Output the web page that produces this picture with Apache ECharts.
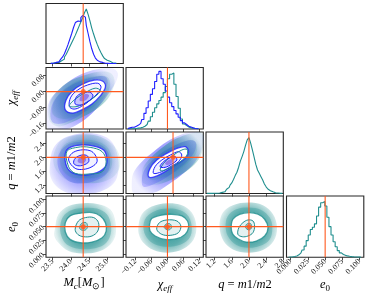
<!DOCTYPE html>
<html><head><meta charset="utf-8">
<script src="https://cdn.jsdelivr.net/npm/echarts@6/dist/echarts.min.js"></script>
<style>html,body{margin:0;padding:0;background:#fff}#c{width:374px;height:298px}</style>
</head><body><div id="c"></div>
<script>
// ---------- 1D histograms ----------
const mcCenters = [23.45,23.50,23.55,23.60,23.65,23.70,23.75,23.80,23.85,23.90,23.95,24.00,24.05,24.10,24.15,24.20,24.25,24.30,24.35,24.40,24.45,24.50,24.55,24.60,24.65,24.70,24.75,24.80,24.85,24.90,24.95,25.00,25.05,25.10,25.15,25.20,25.25];
const mcTeal = [0.005,0.008,0.01,0.015,0.02,0.03,0.05,0.08,0.12,0.17,0.24,0.31,0.38,0.45,0.52,0.6,0.68,0.76,0.84,0.93,1.0,0.9,0.78,0.65,0.54,0.44,0.35,0.27,0.2,0.14,0.09,0.06,0.04,0.025,0.015,0.01,0.005];
const mcBlue = [0.003,0.005,0.01,0.02,0.03,0.05,0.08,0.12,0.18,0.26,0.35,0.45,0.55,0.66,0.75,0.78,0.77,0.84,0.88,0.85,0.7,0.55,0.4,0.27,0.17,0.1,0.06,0.03,0.02,0.01,0.005,0.003,0.002,0.001,0,0,0];
const chiCenters = [-0.148,-0.140,-0.132,-0.124,-0.116,-0.108,-0.100,-0.092,-0.084,-0.076,-0.068,-0.060,-0.052,-0.044,-0.036,-0.028,-0.020,-0.012,-0.004,0.004,0.012,0.020,0.028,0.036,0.044,0.052,0.060,0.068,0.076,0.084,0.092,0.100,0.108,0.116];
const chiBlue = [0.01,0.02,0.03,0.03,0.05,0.07,0.1,0.17,0.28,0.38,0.5,0.62,0.72,0.85,0.98,1.03,0.9,0.8,0.68,0.57,0.47,0.4,0.33,0.27,0.21,0.15,0.11,0.08,0.05,0.035,0.02,0.01,0.005,0.003];
const chiTeal = [0.002,0.003,0.004,0.005,0.01,0.015,0.02,0.03,0.05,0.08,0.14,0.22,0.3,0.38,0.45,0.51,0.57,0.65,0.76,0.9,0.98,1.0,0.8,0.58,0.37,0.18,0.09,0.06,0.035,0.02,0.015,0.01,0.008,0.005];
const qCenters = [1.02,1.06,1.10,1.14,1.18,1.22,1.26,1.30,1.34,1.38,1.42,1.46,1.50,1.54,1.58,1.62,1.66,1.70,1.74,1.78,1.82,1.86,1.90,1.94,1.98,2.02,2.06,2.10,2.14,2.18,2.22,2.26,2.30,2.34,2.38,2.42,2.46,2.50,2.54,2.58,2.62,2.66,2.70,2.74,2.78];
const qTeal = [0.002,0.002,0.003,0.003,0.004,0.004,0.005,0.008,0.012,0.02,0.03,0.05,0.075,0.11,0.15,0.19,0.25,0.32,0.38,0.47,0.58,0.66,0.75,0.86,0.96,1.0,0.9,0.78,0.65,0.52,0.42,0.36,0.3,0.24,0.17,0.12,0.08,0.05,0.03,0.02,0.012,0.008,0.005,0.003,0.002];
const e0Centers = [-0.003,0.000,0.003,0.006,0.009,0.012,0.015,0.018,0.021,0.024,0.027,0.030,0.033,0.036,0.039,0.042,0.045,0.048,0.051,0.054,0.057,0.060,0.063,0.066,0.069,0.072,0.075,0.078,0.081,0.084,0.087,0.090,0.093,0.096,0.099,0.102];
const e0Teal = [0.002,0.005,0.008,0.015,0.025,0.045,0.08,0.13,0.2,0.3,0.4,0.5,0.54,0.6,0.74,0.9,0.98,1.0,0.92,0.72,0.55,0.4,0.28,0.19,0.12,0.08,0.05,0.035,0.025,0.018,0.012,0.008,0.006,0.004,0.003,0.002];

// ---------- truths ----------
const truthMc = 24.34, truthChi = 0.0, truthQ = 2.0, truthE0 = 0.05;

// ---------- tick values ----------
const ticksMc = [23.5,24.0,24.5,25.0];
const ticksChiX = [-0.12,-0.06,0.0,0.06,0.12];
const ticksChiY = [-0.16,-0.08,0.0,0.08];
const ticksQX = [1.2,1.6,2.0,2.4,2.8];
const ticksQY = [1.2,1.6,2.0,2.4];
const ticksE0 = [0.0,0.025,0.05,0.075,0.1];

// ---------- 2D density outlines (data units) ----------
// A: Mc vs chi_eff
const A_tealOuter = [[23.43,-0.15],[23.39,-0.092],[23.48,-0.033],[23.71,0.017],[24.03,0.058],[24.40,0.083],[24.76,0.1],[25.08,0.095],[25.20,0.058],[25.13,0.0],[24.95,-0.05],[24.67,-0.092],[24.35,-0.125],[23.98,-0.158],[23.66,-0.175]];
const A_blueOuter = [[23.39,-0.192],[23.34,-0.125],[23.41,-0.05],[23.62,0.0],[23.94,0.05],[24.30,0.088],[24.72,0.112],[25.13,0.117],[25.29,0.092],[25.22,0.042],[25.01,-0.017],[24.76,-0.075],[24.44,-0.133],[24.08,-0.175],[23.71,-0.195]];
const A_tealDense = [[23.52,-0.117],[23.51,-0.067],[23.66,-0.017],[23.94,0.028],[24.30,0.062],[24.72,0.078],[25.01,0.072],[25.08,0.033],[24.97,-0.017],[24.76,-0.055],[24.49,-0.092],[24.15,-0.122],[23.80,-0.138]];
const A_blueDense = [[23.48,-0.15],[23.45,-0.092],[23.57,-0.038],[23.85,0.012],[24.21,0.05],[24.63,0.072],[24.95,0.075],[25.01,0.042],[24.86,-0.008],[24.63,-0.058],[24.35,-0.105],[24.03,-0.142],[23.71,-0.162]];
const A_white = [[23.85,-0.092],[23.87,-0.042],[24.06,0.005],[24.33,0.038],[24.64,0.058],[24.88,0.052],[24.95,0.022],[24.81,-0.022],[24.58,-0.062],[24.30,-0.092],[24.06,-0.108]];
const A_blueL2 = [[23.96,-0.075],[24.00,-0.028],[24.19,0.008],[24.46,0.033],[24.74,0.042],[24.83,0.022],[24.72,-0.012],[24.52,-0.045],[24.29,-0.075],[24.09,-0.088]];
const A_tealL2 = [[23.96,-0.072],[24.12,-0.038],[24.40,-0.005],[24.67,0.017],[24.81,0.005],[24.67,-0.025],[24.42,-0.055],[24.17,-0.075]];
const A_blueInner = [[24.12,-0.062],[24.15,-0.028],[24.30,-0.008],[24.52,-0.003],[24.61,-0.022],[24.49,-0.048],[24.30,-0.067]];
const A_core = [[24.24,-0.045],[24.28,-0.022],[24.40,-0.012],[24.50,-0.018],[24.44,-0.038],[24.33,-0.048]];
// B: Mc vs q
const B_tealOuter = [[23.57,2.211],[23.75,2.499],[24.17,2.643],[24.63,2.643],[24.99,2.499],[25.27,2.211],[25.36,1.827],[25.22,1.492],[24.90,1.30],[24.44,1.252],[23.98,1.30],[23.66,1.54],[23.52,1.875]];
const B_blueOuter = [[23.43,1.827],[23.52,2.259],[23.80,2.547],[24.26,2.69],[24.72,2.671],[25.08,2.499],[25.27,2.115],[25.31,1.636],[25.18,1.252],[24.81,1.012],[24.35,0.945],[23.89,0.983],[23.57,1.204],[23.43,1.492]];
const B_tealDense = [[23.71,2.163],[23.89,2.403],[24.26,2.499],[24.67,2.48],[24.99,2.307],[25.13,1.971],[25.08,1.636],[24.81,1.444],[24.40,1.396],[23.98,1.444],[23.75,1.684]];
const B_blueDense = [[23.63,1.875],[23.71,2.163],[23.94,2.384],[24.30,2.451],[24.72,2.403],[24.99,2.211],[25.08,1.875],[24.99,1.54],[24.72,1.348],[24.35,1.252],[23.98,1.30],[23.73,1.54]];
const B_white = [[23.85,2.115],[23.98,2.288],[24.26,2.355],[24.63,2.326],[24.90,2.211],[24.99,1.971],[24.95,1.731],[24.72,1.559],[24.40,1.492],[24.08,1.54],[23.89,1.731]];
const B_tealL2 = [[23.89,2.163],[24.17,2.288],[24.53,2.288],[24.86,2.163],[24.97,1.875],[24.86,1.588],[24.49,1.52],[24.12,1.54],[23.94,1.731]];
const B_blueL2 = [[23.94,1.923],[24.03,2.115],[24.26,2.211],[24.53,2.192],[24.67,2.067],[24.72,1.875],[24.58,1.731],[24.35,1.655],[24.12,1.684]];
const B_blueInner = [[24.08,1.827],[24.12,1.971],[24.30,2.067],[24.46,2.038],[24.49,1.875],[24.35,1.779],[24.19,1.76]];
const B_core = [[24.19,1.875],[24.24,2.0],[24.37,2.019],[24.42,1.923],[24.33,1.827]];
// C: chi_eff vs q
const C_tealOuter = [[-0.125,1.444],[-0.118,1.731],[-0.085,2.019],[-0.038,2.307],[0.015,2.547],[0.069,2.69],[0.116,2.71],[0.122,2.403],[0.109,2.019],[0.076,1.731],[0.029,1.492],[-0.025,1.30],[-0.078,1.204],[-0.118,1.252]];
const C_blueOuter = [[-0.165,1.156],[-0.159,1.54],[-0.125,1.875],[-0.078,2.163],[-0.025,2.451],[0.029,2.643],[0.082,2.738],[0.120,2.643],[0.116,2.259],[0.089,1.875],[0.042,1.54],[-0.011,1.252],[-0.065,1.012],[-0.118,0.945],[-0.159,0.983]];
const C_tealDense = [[-0.105,1.463],[-0.098,1.731],[-0.065,2.0],[-0.018,2.23],[0.029,2.422],[0.076,2.499],[0.096,2.355],[0.089,2.067],[0.056,1.827],[0.009,1.588],[-0.038,1.425],[-0.085,1.348]];
const C_blueDense = [[-0.125,1.30],[-0.118,1.588],[-0.092,1.847],[-0.052,2.096],[0.002,2.326],[0.056,2.48],[0.089,2.451],[0.089,2.211],[0.062,1.923],[0.015,1.636],[-0.032,1.396],[-0.085,1.204],[-0.118,1.156]];
const C_white = [[-0.098,1.444],[-0.092,1.684],[-0.065,1.923],[-0.025,2.115],[0.015,2.259],[0.049,2.307],[0.062,2.163],[0.049,1.971],[0.009,1.779],[-0.032,1.588],[-0.072,1.444]];
const C_blueL2 = [[-0.078,1.54],[-0.072,1.731],[-0.045,1.923],[-0.011,2.067],[0.022,2.163],[0.035,2.067],[0.022,1.875],[-0.011,1.731],[-0.045,1.588]];
const C_tealL2 = [[-0.052,1.636],[-0.032,1.875],[0.002,2.067],[0.035,2.211],[0.056,2.23],[0.056,2.067],[0.029,1.875],[-0.005,1.731],[-0.038,1.617]];
const C_blueInner = [[-0.052,1.731],[-0.038,1.875],[-0.011,2.0],[0.009,2.019],[0.015,1.923],[-0.005,1.808],[-0.032,1.712]];
const C_core = [[-0.032,1.827],[-0.018,1.923],[-0.001,1.942],[-0.005,1.847],[-0.022,1.779]];
// D: Mc vs e0
const D_outer = [[23.57,0.0482],[23.66,0.0726],[23.94,0.0879],[24.35,0.0928],[24.76,0.091],[25.08,0.0818],[25.22,0.0604],[25.22,0.0329],[25.04,0.0145],[24.72,0.0035],[24.30,0.001],[23.94,0.0053],[23.66,0.0206],[23.55,0.0329]];
const D_dense = [[23.71,0.0512],[23.80,0.0696],[24.03,0.0806],[24.35,0.0843],[24.72,0.0831],[24.99,0.0726],[25.10,0.0543],[25.08,0.0329],[24.92,0.0176],[24.58,0.0096],[24.21,0.0096],[23.89,0.0176],[23.74,0.0329]];
const D_white = [[23.85,0.0573],[23.98,0.0696],[24.26,0.0745],[24.58,0.0757],[24.81,0.0696],[24.95,0.0573],[24.97,0.042],[24.86,0.0298],[24.58,0.0218],[24.26,0.0206],[23.98,0.0267],[23.85,0.0402]];
const D_L2 = [[24.12,0.0451],[24.21,0.0604],[24.40,0.0665],[24.63,0.0665],[24.76,0.0573],[24.74,0.042],[24.58,0.0329],[24.35,0.0316],[24.19,0.0359]];
const D_inner = [[24.24,0.0482],[24.30,0.0561],[24.42,0.0573],[24.46,0.05],[24.40,0.0439],[24.29,0.0439]];
// E: chi_eff vs e0
const E_outer = [[-0.109,0.0482],[-0.096,0.0726],[-0.059,0.0867],[-0.002,0.0928],[0.054,0.0892],[0.091,0.0757],[0.108,0.0512],[0.098,0.0267],[0.060,0.0096],[0.004,0.0023],[-0.052,0.0072],[-0.090,0.0206],[-0.105,0.0329]];
const E_dense = [[-0.090,0.0482],[-0.080,0.0665],[-0.046,0.0788],[0.0,0.0831],[0.048,0.080],[0.079,0.0684],[0.091,0.0482],[0.083,0.0298],[0.050,0.0176],[0.0,0.0133],[-0.046,0.0176],[-0.077,0.0298]];
const E_white = [[-0.067,0.0543],[-0.059,0.0647],[-0.027,0.0708],[0.016,0.0726],[0.054,0.0696],[0.075,0.0604],[0.079,0.0482],[0.066,0.0359],[0.035,0.028],[-0.009,0.0267],[-0.046,0.0329],[-0.065,0.042]];
const E_L2 = [[-0.040,0.0451],[-0.030,0.0573],[-0.002,0.0622],[0.035,0.0604],[0.050,0.0512],[0.041,0.039],[0.010,0.0341],[-0.021,0.0359]];
const E_inner = [[-0.012,0.0482],[-0.005,0.0549],[0.010,0.0549],[0.015,0.0482],[0.004,0.0439]];
// F: q vs e0
const F_outer = [[1.314,0.0512],[1.392,0.0757],[1.626,0.0892],[1.977,0.0941],[2.327,0.0892],[2.561,0.0726],[2.654,0.0482],[2.576,0.0237],[2.327,0.0072],[1.977,0.0023],[1.626,0.0084],[1.408,0.0237]];
const F_dense = [[1.455,0.0512],[1.509,0.0696],[1.704,0.0818],[2.0,0.0849],[2.288,0.0806],[2.483,0.0665],[2.545,0.0482],[2.483,0.0267],[2.249,0.0145],[1.977,0.0114],[1.688,0.0176],[1.509,0.0329]];
const F_white = [[1.587,0.0482],[1.626,0.0635],[1.782,0.0726],[2.016,0.0757],[2.21,0.0726],[2.366,0.0635],[2.444,0.0482],[2.366,0.0329],[2.171,0.0237],[1.938,0.0218],[1.743,0.028],[1.626,0.0359]];
const F_L2 = [[1.743,0.0359],[1.766,0.0482],[1.86,0.0573],[1.977,0.0622],[2.093,0.0604],[2.132,0.0512],[2.093,0.039],[1.977,0.0329],[1.844,0.0316]];
const F_inner = [[1.922,0.0482],[1.953,0.0549],[2.039,0.0555],[2.062,0.0482],[2.0,0.0439]];

// ---------- styling / layout ----------
const TEAL = '#1f8e8e', BLUE = '#2020ff', ORANGE = '#ff5a1f';
function rgba(hex, a){const n=parseInt(hex.slice(1),16);return `rgba(${n>>16},${(n>>8)&255},${n&255},${a})`;}
function radial(hex, a0, a1, a2){
  return new echarts.graphic.RadialGradient(0.5, 0.5, 0.6,
    [{offset:0, color:rgba(hex,a0)},{offset:0.6, color:rgba(hex,a1)},{offset:1, color:rgba(hex,a2)}]);
}
const colL = [46,126,206,286.5], rowT = [3.5,67.5,132,196], W = 77.3, H = [60,61.5,61.5,61.3];
const FONT = 'Liberation Serif';
const grids=[], xAxes=[], yAxes=[], series=[];
function fmt(v, d){ return (v < -1e-12 ? '\u2212' : '') + Math.abs(v).toFixed(d); }
function axis(i, c){
  return {type:'value', gridIndex:i, min:c.min, max:c.max, scale:false,
    axisLine:{show:false, onZero:false}, splitLine:{show:false},
    axisTick:{show:!!c.ticks, customValues:c.ticks||[], length:3, lineStyle:{color:'#222', width:0.8}},
    axisLabel:{show:!!(c.ticks&&c.labels), customValues:c.ticks||[], rotate:45, margin:3, fontSize:8, fontFamily:FONT, color:'#111',
      formatter:v=>fmt(v,c.dec)}};
}
const ranges = [];
function addGrid(r, c, xc, yc){
  const i = grids.length;
  grids.push({left:colL[c], top:rowT[r], width:W, height:H[r], show:true, borderColor:'#262626', borderWidth:1.1, backgroundColor:'rgba(0,0,0,0)'});
  xAxes.push(axis(i, xc)); yAxes.push(axis(i, yc));
  ranges.push({x:xc, y:yc});
  return i;
}
function line(g, pts, color, w){
  series.push({type:'line', xAxisIndex:g, yAxisIndex:g, symbol:'none', silent:true, z:4,
    data:pts, lineStyle:{color, width:w}});
}
function hist(g, centers, vals, color){
  line(g, centers.map((x,k)=>[x, vals[k]]), color, 1.1);
  series[series.length-1].step = 'middle';
  series[series.length-1].z = 2;
}
function truthV(g, tx){ const R = ranges[g].y; line(g, [[tx, R.min],[tx, R.max]], ORANGE, 1.1); }
function truthH(g, ty){ const R = ranges[g].x; line(g, [[R.min, ty],[R.max, ty]], ORANGE, 1.1); }
function poly(g, pts, fill, stroke, lw){
  series.push({type:'custom', xAxisIndex:g, yAxisIndex:g, clip:true, silent:true, z:1, data:[pts[0]],
    renderItem:(p, api)=>({type:'polygon', shape:{points:pts.map(pt=>api.coord(pt)), smooth:0.35},
      style:{fill: fill || 'none', stroke: stroke || 'none', lineWidth: lw || 0}})});
}
function truth2d(g, tx, ty){
  truthV(g, tx); truthH(g, ty);
  series.push({type:'scatter', xAxisIndex:g, yAxisIndex:g, data:[[tx,ty]], symbolSize:5, silent:true,
    itemStyle:{color:ORANGE}, z:5});
}
function twoSet(g, L){
  poly(g, L.blueOuter, radial(BLUE,0.7,0.35,0.07));
  poly(g, L.tealOuter, radial(TEAL,0.75,0.42,0.1));
  poly(g, L.blueDense, rgba(BLUE,0.2));
  poly(g, L.tealDense, rgba(TEAL,0.15));
  poly(g, L.white, '#ffffff', rgba(BLUE,0.8), 1.3);
  poly(g, L.blueL2, rgba(BLUE,0.06), BLUE, 1);
  poly(g, L.tealL2, null, TEAL, 1);
  poly(g, L.blueInner, rgba(BLUE,0.22), BLUE, 1);
  poly(g, L.core, 'rgba(90,40,210,0.45)');
}
function oneSet(g, L){
  poly(g, L.outer, radial(TEAL,0.95,0.6,0.12));
  poly(g, L.dense, rgba(TEAL,0.3));
  poly(g, L.white, '#ffffff', rgba(TEAL,0.8), 1.3);
  poly(g, L.L2, rgba(TEAL,0.12), TEAL, 1);
  poly(g, L.inner, rgba(TEAL,0.3), TEAL, 0.8);
}

const rMc = {min:23.32, max:25.44};
const rChiT = {min:-0.155, max:0.134}, rChiB = {min:-0.188, max:0.121};
const rQT = {min:1.0, max:2.8}, rQB = {min:0.96, max:2.73};
const rE0 = {min:-0.006, max:0.106};
const rH = {min:0, max:1.1};

// row 1
const g0 = addGrid(0,0, {...rMc, ticks:ticksMc}, rH);
hist(g0, mcCenters, mcTeal, TEAL); hist(g0, mcCenters, mcBlue, BLUE); truthV(g0, truthMc);
// row 2
const g1 = addGrid(1,0, {...rMc, ticks:ticksMc}, {...rChiB, ticks:ticksChiY, labels:true, dec:2});
twoSet(g1, {tealOuter:A_tealOuter, blueOuter:A_blueOuter, tealDense:A_tealDense, blueDense:A_blueDense, white:A_white, blueL2:A_blueL2, tealL2:A_tealL2, blueInner:A_blueInner, core:A_core});
truth2d(g1, truthMc, truthChi);
const g2 = addGrid(1,1, {...rChiT, ticks:ticksChiX}, rH);
hist(g2, chiCenters, chiTeal, TEAL); hist(g2, chiCenters, chiBlue, BLUE); truthV(g2, truthChi);
// row 3
const g3 = addGrid(2,0, {...rMc, ticks:ticksMc}, {...rQB, ticks:ticksQY, labels:true, dec:1});
twoSet(g3, {tealOuter:B_tealOuter, blueOuter:B_blueOuter, tealDense:B_tealDense, blueDense:B_blueDense, white:B_white, blueL2:B_blueL2, tealL2:B_tealL2, blueInner:B_blueInner, core:B_core});
truth2d(g3, truthMc, truthQ);
const g4 = addGrid(2,1, {...rChiB, ticks:ticksChiY}, {...rQB, ticks:ticksQY});
twoSet(g4, {tealOuter:C_tealOuter, blueOuter:C_blueOuter, tealDense:C_tealDense, blueDense:C_blueDense, white:C_white, blueL2:C_blueL2, tealL2:C_tealL2, blueInner:C_blueInner, core:C_core});
truth2d(g4, truthChi, truthQ);
const g5 = addGrid(2,2, {...rQT, ticks:ticksQX}, rH);
hist(g5, qCenters, qTeal, TEAL); truthV(g5, truthQ);
// row 4
const g6 = addGrid(3,0, {...rMc, ticks:ticksMc, labels:true, dec:1}, {...rE0, ticks:ticksE0, labels:true, dec:3});
oneSet(g6, {outer:D_outer, dense:D_dense, white:D_white, L2:D_L2, inner:D_inner});
truth2d(g6, truthMc, truthE0);
const g7 = addGrid(3,1, {...rChiT, ticks:ticksChiX, labels:true, dec:2}, {...rE0, ticks:ticksE0});
oneSet(g7, {outer:E_outer, dense:E_dense, white:E_white, L2:E_L2, inner:E_inner});
truth2d(g7, truthChi, truthE0);
const g8 = addGrid(3,2, {...rQT, ticks:ticksQX, labels:true, dec:1}, {...rE0, ticks:ticksE0});
oneSet(g8, {outer:F_outer, dense:F_dense, white:F_white, L2:F_L2, inner:F_inner});
truth2d(g8, truthQ, truthE0);
const g9 = addGrid(3,3, {...rE0, ticks:ticksE0, labels:true, dec:3}, rH);
hist(g9, e0Centers, e0Teal, TEAL); truthV(g9, truthE0);

// ---------- axis titles ----------
const rich = {
  i:{fontFamily:FONT, fontStyle:'italic', fontSize:12.5, lineHeight:16, verticalAlign:'middle', color:'#000'},
  n:{fontFamily:FONT, fontSize:12.5, lineHeight:16, verticalAlign:'middle', color:'#000'},
  s:{fontFamily:FONT, fontStyle:'italic', fontSize:9, lineHeight:8, verticalAlign:'bottom', color:'#000'},
  sn:{fontFamily:FONT, fontSize:9, lineHeight:8, verticalAlign:'bottom', color:'#000'}
};
const titles = [
  {t:'{i|M}{s|c}{n|[}{i|M}{sn|⊙}{n|]}', x:84, y:283, r:0},
  {t:'{i|χ}{s|eff}', x:165, y:285, r:0},
  {t:'{i|q}{n| = }{i|m}{n|1/}{i|m}{n|2}', x:245, y:285, r:0},
  {t:'{i|e}{sn|0}', x:325, y:285, r:0},
  {t:'{i|χ}{s|eff}', x:12, y:98, r:Math.PI/2},
  {t:'{i|q}{n| = }{i|m}{n|1/}{i|m}{n|2}', x:12, y:163, r:Math.PI/2},
  {t:'{i|e}{sn|0}', x:12, y:227, r:Math.PI/2}
];
const graphic = titles.map(o=>({type:'text', x:o.x, y:o.y, rotation:o.r, silent:true,
  style:{text:o.t, rich, align:'center', verticalAlign:'middle', fill:'#000'}}));

const chart = echarts.init(document.getElementById('c'), null, {renderer:'canvas'});
chart.setOption({animation:false, grid:grids, xAxis:xAxes, yAxis:yAxes, series, graphic,
  textStyle:{fontFamily:FONT}});
</script></body></html>
